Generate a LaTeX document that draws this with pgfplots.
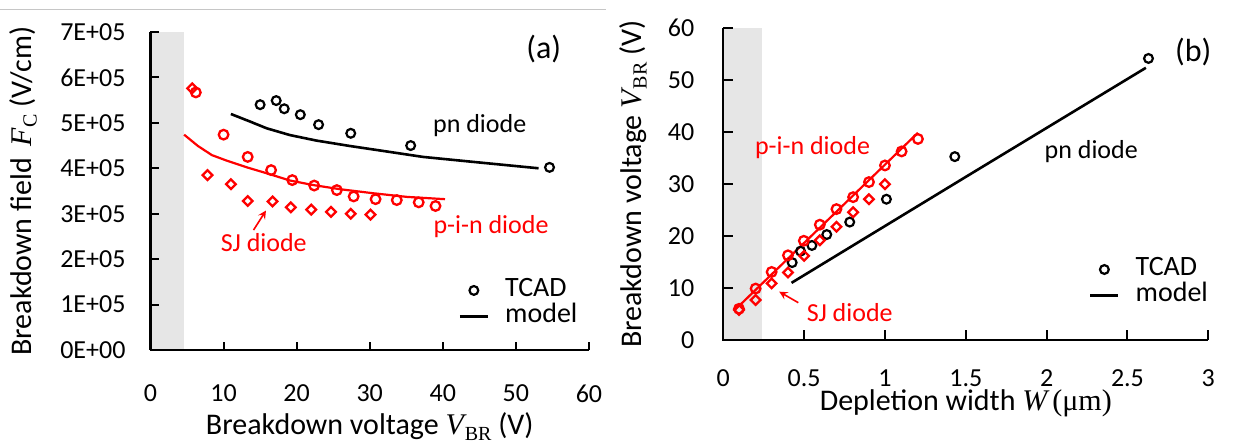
\documentclass[border=0pt]{standalone}
\usepackage{fontspec}
\setmainfont{Carlito}
\newfontfamily\serif{Liberation Serif}
\usepackage{pgfplots}
\pgfplotsset{compat=1.18}

\definecolor{pinred}{HTML}{FF0000}
\definecolor{bandgray}{HTML}{E6E6E6}

% V_BR in the serif italic of the original
\newcommand{\vbr}{{\serif\itshape V}\kern0.5pt\raisebox{-0.35ex}{\serif\fontsize{10}{10}\selectfont BR}}

\tikzset{lab/.style={font=\fontsize{13}{15}\selectfont},
  axframe/.style={draw=black, line width=1pt}}
\pgfplotsset{
  panel/.style={
    scale only axis,
    axis on top,
    axis lines=left,
    axis line style={draw=black, line width=1pt, -},
    tick align=inside,
    major tick length=4pt,
    tick style={draw=black, line width=1pt},
    scaled ticks=false,
    ticklabel style={font=\fontsize{13}{15}\selectfont},
    label style={font=\fontsize{15}{18}\selectfont},
    clip=false,
    legend cell align=left,
    legend style={draw=none, fill=none, font=\fontsize{14}{16}\selectfont,
      nodes={inner sep=1pt, text height=8.5pt, text depth=2.5pt}},
    legend image code/.code={
      \draw[mark repeat=2, mark phase=2, ##1] plot coordinates {(0pt,0pt) (7pt,0pt) (14pt,0pt)};
      \path (21pt,0pt);},
  },
  tcadblk/.style={only marks, mark=o, mark size=2.2pt, line width=1.1pt, black},
  tcadred/.style={only marks, mark=o, mark size=2.4pt, line width=1.15pt, pinred},
  sjred/.style={only marks, mark=square, mark size=1.7pt, line width=1.15pt, pinred,
    mark options={rotate=45}},
  modblk/.style={no marks, black, line width=1.3pt},
  modred/.style={no marks, pinred, line width=1.1pt},
  modleg/.style={no marks, black, line width=1.6pt},
}

\begin{document}
\begin{tikzpicture}
\useasboundingbox (0,0) rectangle (616.5pt,222pt);
\draw[gray!45, line width=0.5pt] (0pt,217pt) -- (303pt,217pt);

% ---------------- (a) breakdown field vs breakdown voltage
\begin{axis}[panel, name=pa,
  at={(75.25pt,47pt)}, anchor=south west,
  width=219.25pt, height=159pt,
  xmin=0, xmax=60, ymin=0, ymax=700000,
  xtick={0,10,20,30,40,50,60},
  xticklabels={0,10,20,30,40,50,60},
  ytick={0,100000,200000,300000,400000,500000,600000,700000},
  yticklabels={0E+00,1E+05,2E+05,3E+05,4E+05,5E+05,6E+05,7E+05},
  yticklabel style={xshift=-9pt},
  xticklabel style={yshift=-14pt},
  xlabel={Breakdown voltage \vbr{} (V)},
  xlabel style={at={(rel axis cs:0.5,0)}, anchor=base, yshift=-42.5pt},
  ylabel={Breakdown field \,{\serif\itshape F}\raisebox{-0.35ex}{\serif\fontsize{10}{10}\selectfont C} (V/cm)},
  ylabel style={at={(rel axis cs:0,0.5)}, anchor=base, yshift=59.4pt},
  legend style={at={(0.688,0.242)}, anchor=north west},
]
\fill[bandgray] (axis cs:0,0) rectangle (axis cs:4.6,700000);

% pn diode
\addplot[tcadblk] coordinates {
  (15.0,540000) (17.2,549000) (18.3,531000) (20.5,518000)
  (23.0,496000) (27.4,477000) (35.6,450000) (54.6,402000)};
\addplot[modblk] coordinates {
  (11.0,519500) (13.6,503000) (15.9,488000) (19.1,473000) (22.7,461000)
  (27.3,449000) (31.9,438000) (37.3,425000) (44.2,414000) (53.1,400000)};

% p-i-n diode
\addplot[tcadred] coordinates {
  (6.2,567000) (10.0,474000) (13.3,425000) (16.5,396000) (19.4,374000)
  (22.4,362000) (25.5,352000) (27.8,338000) (30.8,332000) (33.7,330000)
  (36.7,325000) (39.0,317000)};
\addplot[modred] coordinates {
  (4.6,474000) (6.5,449000) (8.4,429000) (10.4,417000) (13.2,402000)
  (15.9,389000) (19.1,373000) (22.3,363000) (25.9,354000) (30.5,345000)
  (35.1,337000) (40.3,332000)};

% SJ diode
\addplot[sjred] coordinates {
  (5.7,576000) (7.8,385000) (11.0,365000) (13.3,328000) (16.7,327000)
  (19.2,314000) (22.0,309000) (24.7,304000) (27.4,300000) (30.1,298000)};

\addlegendimage{tcadblk}
\addlegendentry{TCAD}
\addlegendimage{modleg}
\addlegendentry{model}

\node[lab] at (axis cs:45.05,493500) {pn diode};
\node[lab, text=pinred] at (axis cs:46.6,271400) {p-i-n diode};
\node[lab, text=pinred] at (axis cs:15.5,236600) {SJ diode};
\draw[pinred, line width=0.8pt, -stealth] (axis cs:14.1,264000) -- (axis cs:15.8,307000);
\node[font=\fontsize{16}{18}\selectfont] at (axis cs:53.8,663000) {(a)};
\end{axis}

% ---------------- (b) breakdown voltage vs depletion width
\begin{axis}[panel, name=pb,
  at={(361.65pt,52pt)}, anchor=south west,
  width=242.5pt, height=155.85pt,
  xmin=0, xmax=3, ymin=0, ymax=60,
  xtick={0,0.5,1,1.5,2,2.5,3},
  xticklabels={0,0.5,1,1.5,2,2.5,3},
  ytick={0,10,20,30,40,50,60},
  yticklabels={0,10,20,30,40,50,60},
  yticklabel style={xshift=-11pt},
  xticklabel style={yshift=-11.5pt},
  major tick length=5pt,
  xlabel={Depletion width {\serif\itshape W}\,{\serif (μm)}},
  xlabel style={at={(rel axis cs:0.5,0)}, anchor=base, yshift=-35.5pt},
  ylabel={Breakdown voltage \vbr{} (V)},
  ylabel style={at={(rel axis cs:0,0.5)}, anchor=base, yshift=40.8pt},
  legend style={at={(0.741,0.282)}, anchor=north west},
]
\fill[bandgray] (axis cs:0,0) rectangle (axis cs:0.24,60);

% pn diode
\addplot[tcadblk] coordinates {
  (0.426,14.9) (0.478,17.1) (0.548,18.2) (0.640,20.3) (0.782,22.7)
  (1.009,27.1) (1.432,35.3) (2.630,54.2)};
\addplot[modblk] coordinates {(0.422,11.0) (1.5,31.4) (2.614,52.4)};

% p-i-n diode
\addplot[modred] coordinates {(0.072,5.8) (0.6,21.7) (1.204,39.9)};
\addplot[tcadred] coordinates {
  (0.097,6.0) (0.200,9.9) (0.299,13.1) (0.400,16.3) (0.498,19.1)
  (0.597,22.2) (0.700,25.2) (0.803,27.5) (0.901,30.4) (1.000,33.6)
  (1.103,36.3) (1.204,38.7)};

% SJ diode
\addplot[sjred] coordinates {
  (0.097,5.8) (0.200,7.7) (0.299,10.9) (0.400,13.0) (0.500,16.2)
  (0.597,19.2) (0.700,21.8) (0.803,24.6) (0.901,27.1) (1.000,30.0)};

\addlegendimage{tcadblk}
\addlegendentry{TCAD}
\addlegendimage{modleg}
\addlegendentry{model}

\node[lab, text=pinred] at (axis cs:0.552,37.06) {p-i-n diode};
\node[lab] at (axis cs:2.276,36.25) {pn diode};
\node[lab, text=pinred] at (axis cs:0.782,5.29) {SJ diode};
\draw[pinred, line width=0.8pt, -stealth] (axis cs:0.464,7.18) -- (axis cs:0.346,9.30);
\node[font=\fontsize{16}{18}\selectfont] at (axis cs:2.907,55.5) {(b)};
\end{axis}

% L-shaped frames over everything
\draw[axframe] (pa.north west) -- (pa.south west) -- (pa.south east);
\draw[axframe] (pb.north west) -- (pb.south west) -- (pb.south east);
\end{tikzpicture}
\end{document}
